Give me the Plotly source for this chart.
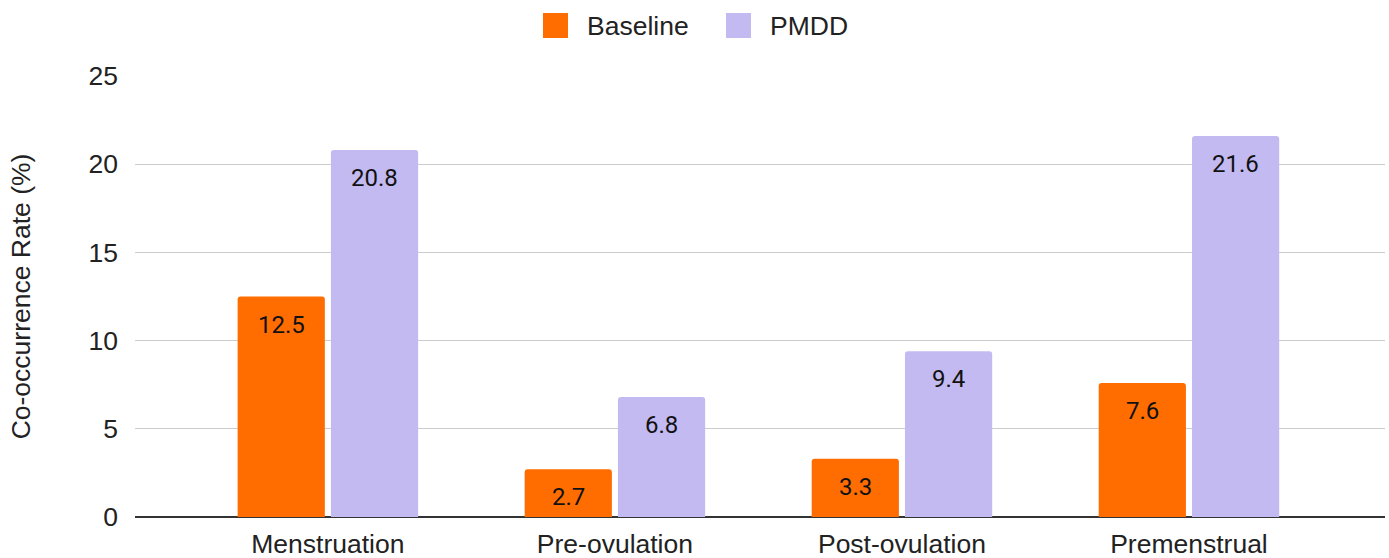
import plotly.graph_objects as go

phases = ["Menstruation", "Pre-ovulation", "Post-ovulation", "Premenstrual"]
baseline = [12.5, 2.7, 3.3, 7.6]
pmdd = [20.8, 6.8, 9.4, 21.6]
y_ticks = [0, 5, 10, 15, 20, 25]

series = [("Baseline", baseline, "#ff6d01"), ("PMDD", pmdd, "#c3baf1")]

W, H = 1389, 558
ML, MR, MT, MB = 135, 4, 76, 41
PW, PH = W - ML - MR, H - MT - MB
X_RANGE = [-0.672, 3.683]
BARGAP = 0.35
FONT = "Liberation Sans, Arial"

def px_x(p):
    return (p - ML) / PW

def px_y(p):
    return (H - MB - p) / PH

fig = go.Figure()
for name, vals, color in series:
    fig.add_trace(go.Bar(
        x=phases, y=vals, name=name, showlegend=False,
        marker=dict(color=color, cornerradius=3, line=dict(width=0)),
    ))

# value labels just under the top of each bar
cat_px = PW / (X_RANGE[1] - X_RANGE[0])
slot = cat_px * (1 - BARGAP) / len(series)
for i, (name, vals, color) in enumerate(series):
    shift = (i - (len(series) - 1) / 2) * slot
    for cat, v in zip(phases, vals):
        fig.add_annotation(
            x=cat, y=v, xref="x", yref="y", text=f"{v:.1f}", showarrow=False,
            xshift=shift, yshift=-12, yanchor="top", xanchor="center",
            font=dict(family="Roboto", size=24, color="#111111"),
        )

# legend drawn as swatches with labels above the plot
legend_items = [("Baseline", "#ff6d01", 543), ("PMDD", "#c3baf1", 726)]
for label, color, left in legend_items:
    fig.add_shape(
        type="rect", xref="paper", yref="paper",
        x0=px_x(left), x1=px_x(left + 25), y0=px_y(38), y1=px_y(13),
        fillcolor=color, line=dict(width=0), layer="above",
    )
    fig.add_annotation(
        x=px_x(left + 42), y=px_y(25.5), xref="paper", yref="paper",
        text=label, showarrow=False, xanchor="left", yanchor="middle",
        font=dict(family=FONT, size=26.5, color="#222222"),
    )

fig.update_layout(
    width=W, height=H,
    margin=dict(l=ML, r=MR, t=MT, b=MB, autoexpand=False),
    paper_bgcolor="white", plot_bgcolor="white",
    barmode="group", bargap=BARGAP, bargroupgap=0.065,
    font=dict(family=FONT, size=26.5, color="#222222"),
    showlegend=False,
)
fig.update_xaxes(range=X_RANGE, showgrid=False, ticks="", showline=False,
                 ticklabelstandoff=8, automargin=False)
fig.update_yaxes(range=[0, 25], tickvals=y_ticks, gridcolor="#cccccc", gridwidth=1,
                 zeroline=True, zerolinecolor="#333333", zerolinewidth=1.5,
                 ticks="", ticklabelstandoff=16, automargin=False,
                 title=dict(text="Co-occurrence Rate (%)", standoff=50,
                            font=dict(family=FONT, size=26.5, color="#222222")))

fig.write_html("out.html")
